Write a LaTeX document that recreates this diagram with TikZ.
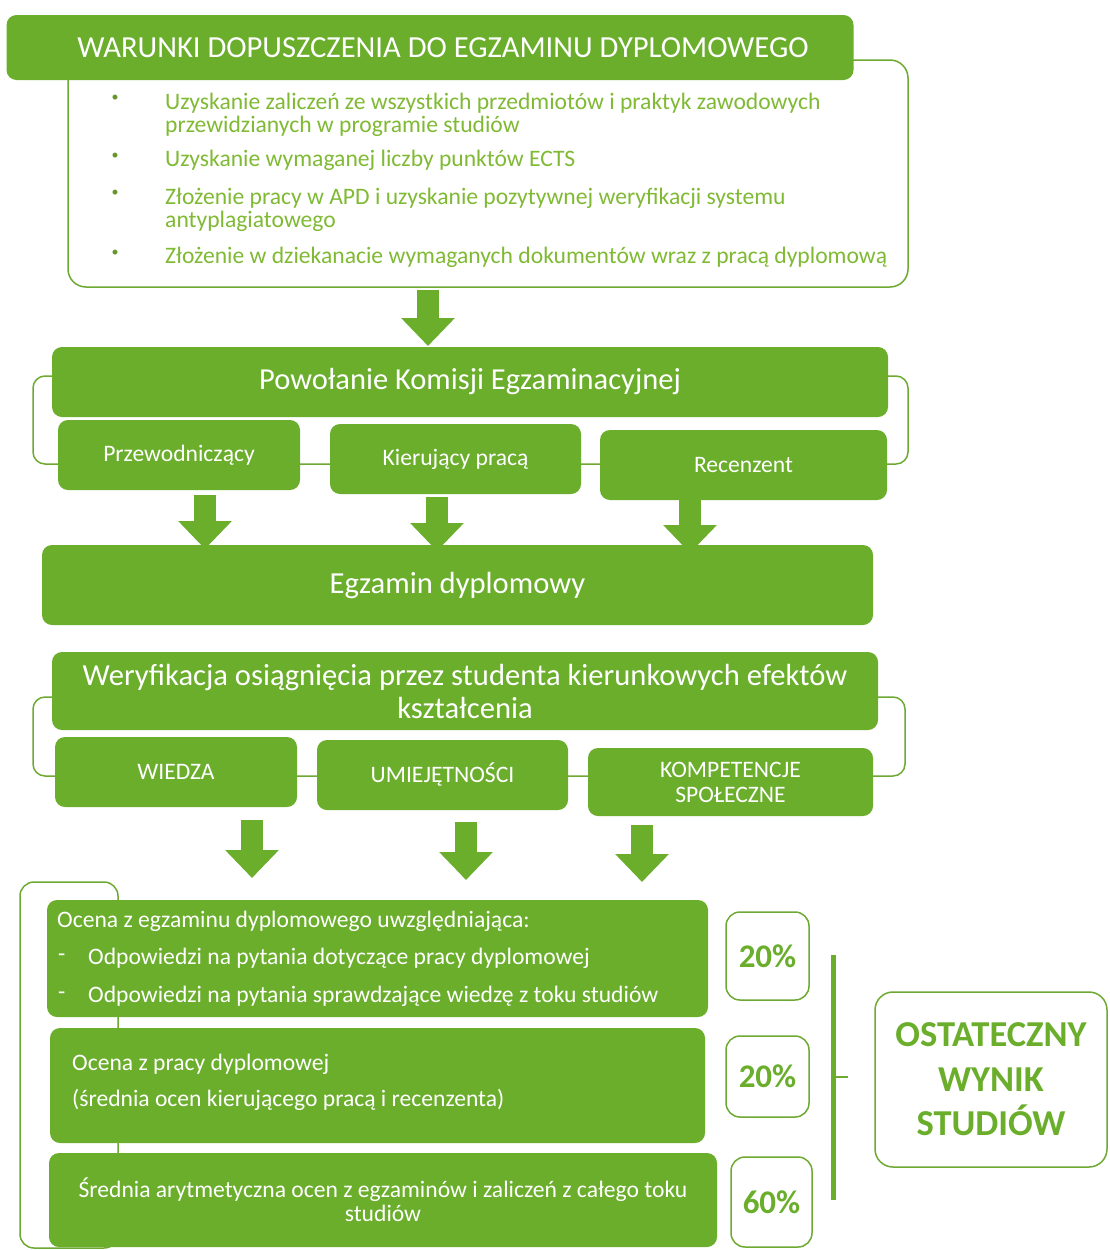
\documentclass[tikz,border=0pt]{standalone}
\usepackage{fontspec}
\setmainfont{Carlito}
\usetikzlibrary{arrows.meta}
\definecolor{gfill}{RGB}{106,174,44}
\definecolor{gtext}{RGB}{128,186,52}
\definecolor{gline}{RGB}{110,170,50}
\tikzset{
  gbox/.style={rectangle, rounded corners=10pt, fill=gfill, text=white, inner sep=2pt, align=center},
  obox/.style={rectangle, rounded corners=18pt, draw=gline, line width=1.5pt},
  pbox/.style={rectangle, rounded corners=14pt, draw=gline, line width=1.5pt, text=gfill, font=\fontsize{33}{36}\selectfont\bfseries},
  bigarrow/.style={draw=gfill, line width=22pt, -{Triangle[width=52pt,length=28pt]}},
  btext/.style={anchor=west, text=gtext, align=left, inner sep=0pt, font=\fontsize{23.6}{23}\selectfont},
  bdot/.style={anchor=center, text=gtext!80!black, inner sep=0pt, font=\fontsize{14}{14}\selectfont},
  wtext/.style={anchor=west, text=white, inner sep=0pt, font=\fontsize{23.6}{24}\selectfont},
}
\begin{document}
\begin{tikzpicture}[x=1pt,y=-1pt]
\useasboundingbox[fill=white] (0,0) rectangle (1109,1250);
% section 1
\node[obox, minimum width=840pt, minimum height=227pt] (out1) at (488,173.5) {};
\node[gbox, minimum width=847pt, minimum height=65pt, font=\fontsize{30.6}{33}\selectfont] (title) at (430,47.5) {\hspace*{26pt}WARUNKI DOPUSZCZENIA DO EGZAMINU DYPLOMOWEGO};
\node[bdot] (d1) at (115,98) {•};
\node[bdot] (d2) at (115,156) {•};
\node[bdot] (d3) at (115,193) {•};
\node[bdot] (d4) at (115,253) {•};
\node[btext] (b1) at (165,114.5) {Uzyskanie zaliczeń ze wszystkich przedmiotów i praktyk zawodowych\\przewidzianych w programie studiów};
\node[btext] (b2) at (165,160) {Uzyskanie wymaganej liczby punktów ECTS};
\node[btext] (b3) at (165,210) {Złożenie pracy w APD i uzyskanie pozytywnej weryfikacji systemu\\antyplagiatowego};
\node[btext] (b4) at (165,257) {Złożenie w dziekanacie wymaganych dokumentów wraz z pracą dyplomową};
\coordinate (a0s) at (428,290);
\coordinate (a0e) at (428,346);
\draw[bigarrow] (a0s) -- (a0e);
% section 2
\node[obox, rounded corners=12pt, minimum width=875pt, minimum height=88pt] (out2) at (470.5,420) {};
\node[gbox, minimum width=836pt, minimum height=70pt, font=\fontsize{30.5}{33}\selectfont] (pow) at (470,382) {Powołanie Komisji Egzaminacyjnej};
\node[gbox, minimum width=242pt, minimum height=70pt, font=\fontsize{23.6}{26}\selectfont] (prz) at (179,455) {Przewodniczący};
\node[gbox, minimum width=251pt, minimum height=70pt, font=\fontsize{23.6}{26}\selectfont] (kier) at (455.5,459) {Kierujący pracą};
\node[gbox, minimum width=287pt, minimum height=70pt, font=\fontsize{23.6}{26}\selectfont] (rec) at (743.5,465) {Recenzent};
\node[gbox, minimum width=831pt, minimum height=80pt, font=\fontsize{30.6}{33}\selectfont] (egz) at (457.5,585) {Egzamin dyplomowy};
\coordinate (a1s) at (205,495);
\coordinate (a1e) at (205,549);
\coordinate (a2s) at (437,497);
\coordinate (a2e) at (437,551);
\coordinate (a3s) at (690,500);
\coordinate (a3e) at (690,553);
\draw[bigarrow] (a1s) -- (a1e);
\draw[bigarrow] (a2s) -- (a2e);
\draw[bigarrow] (a3s) -- (a3e);
% section 3
\node[obox, rounded corners=12pt, minimum width=872pt, minimum height=79pt] (out3) at (469,736.5) {};
\node[gbox, minimum width=826pt, minimum height=78pt, font=\fontsize{30.6}{33}\selectfont] (wer) at (465,691) {Weryfikacja osiągnięcia przez studenta kierunkowych efektów\\kształcenia};
\node[gbox, minimum width=242pt, minimum height=70pt, font=\fontsize{23.6}{25}\selectfont] (wie) at (176,772) {WIEDZA};
\node[gbox, minimum width=251pt, minimum height=70pt, font=\fontsize{23.6}{25}\selectfont] (umi) at (442.5,775) {UMIEJĘTNOŚCI};
\node[gbox, minimum width=285pt, minimum height=68pt, font=\fontsize{23.6}{25}\selectfont] (kom) at (730.5,782) {KOMPETENCJE\\SPOŁECZNE};
\coordinate (a4s) at (252,820);
\coordinate (a4e) at (252,878);
\coordinate (a5s) at (466,822);
\coordinate (a5e) at (466,880);
\coordinate (a6s) at (642,825);
\coordinate (a6e) at (642,882);
\draw[bigarrow] (a4s) -- (a4e);
\draw[bigarrow] (a5s) -- (a5e);
\draw[bigarrow] (a6s) -- (a6e);
% section 4
\node[obox, rounded corners=14pt, minimum width=98pt, minimum height=366pt] (out4) at (69,1065) {};
\node[gbox, minimum width=661pt, minimum height=117pt] (oa) at (377.5,958.5) {};
\node[gbox, minimum width=655pt, minimum height=115pt] (ob) at (377.5,1085.5) {};
\node[gbox, minimum width=668pt, minimum height=94pt, font=\fontsize{23.6}{24}\selectfont] (oc) at (383,1200) {Średnia arytmetyczna ocen z egzaminów i zaliczeń z całego toku\\studiów};
\node[wtext] (oa1) at (57,921) {Ocena z egzaminu dyplomowego uwzględniająca:};
\node[wtext] (oa2d) at (58,958) {-};
\node[wtext] (oa2) at (88,958) {Odpowiedzi na pytania dotyczące pracy dyplomowej};
\node[wtext] (oa3d) at (58,996) {-};
\node[wtext] (oa3) at (88,996) {Odpowiedzi na pytania sprawdzające wiedzę z toku studiów};
\node[wtext] (ob1) at (72,1064) {Ocena z pracy dyplomowej};
\node[wtext] (ob2) at (72,1100) {(średnia ocen kierującego pracą i recenzenta)};
\node[pbox, minimum width=83pt, minimum height=88pt] (p1) at (767.5,956) {20\%};
\node[pbox, minimum width=83pt, minimum height=81pt] (p2) at (767.5,1076.5) {20\%};
\node[pbox, minimum width=81pt, minimum height=90pt] (p3) at (771.5,1202) {60\%};
\coordinate (vt) at (833,955);
\coordinate (vb) at (833,1200);
\coordinate (vm) at (833,1077);
\coordinate (vk) at (848,1077);
\draw[gfill, line width=5pt] (vt) -- (vb);
\draw[gline, line width=1.2pt] (vm) -- (vk);
\node[pbox, rounded corners=18pt, minimum width=232pt, minimum height=175pt, font=\fontsize{36.5}{44.5}\selectfont\bfseries, align=center] (fin) at (991,1079.5) {OSTATECZNY\\WYNIK\\STUDIÓW};
\end{tikzpicture}
\end{document}
